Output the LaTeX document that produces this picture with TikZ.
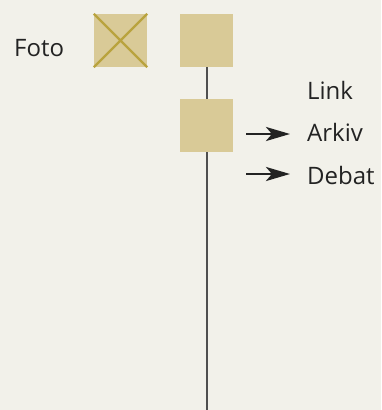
\documentclass[tikz,border=0pt]{standalone}
\usepackage{fontspec}
\setmainfont{Open Sans}
\usetikzlibrary{arrows.meta}
\definecolor{paper}{HTML}{F2F1EA}
\definecolor{tile}{HTML}{D9CA97}
\definecolor{tilemark}{HTML}{B9A33E}
\definecolor{ink}{HTML}{232323}
\definecolor{rule}{HTML}{4F4F4F}
\tikzset{
  tilebox/.style={fill=tile, draw=none, minimum size=53pt, inner sep=0pt},
  label text/.style={anchor=base west, inner sep=0pt, text=ink, font=\fontsize{24}{28}\selectfont},
  pointer/.style={draw=ink, line width=2.8pt, -{Stealth[length=24pt,width=14pt,inset=6pt]}},
  stem/.style={draw=rule, line width=2pt},
}
\begin{document}
\begin{tikzpicture}[x=1pt,y=-1pt]
  \fill[paper] (0,0) rectangle (381,410);
  \useasboundingbox (0,0) rectangle (381,410);

  % tiles
  \node[tilebox] (photo) at (120.5,40.5) {};
  \node[tilebox] (top)   at (206.5,40.5) {};
  \node[tilebox] (mid)   at (206.5,125.5) {};
  \draw[tilemark, line width=2.4pt] (photo.north west) -- (photo.south east)
                                    (photo.north east) -- (photo.south west);

  % vertical stem
  \coordinate (bottom) at (206.5,410);
  \draw[stem] (top.south) -- (mid.north);
  \draw[stem] (mid.south) -- (bottom);

  % labels
  \node[label text] (foto)  at (14,56)  {Foto};
  \node[label text] (link)  at (307,99) {Link};
  \node[label text] (arkiv) at (307,141) {Arkiv};
  \node[label text] (debat) at (307,184) {Debat};

  % pointers
  \coordinate (p1) at (246,134);
  \coordinate (p2) at (246,174);
  \draw[pointer, shorten >=17pt] (p1) -- (p1 -| arkiv.west);
  \draw[pointer, shorten >=17pt] (p2) -- (p2 -| debat.west);
\end{tikzpicture}
\end{document}
